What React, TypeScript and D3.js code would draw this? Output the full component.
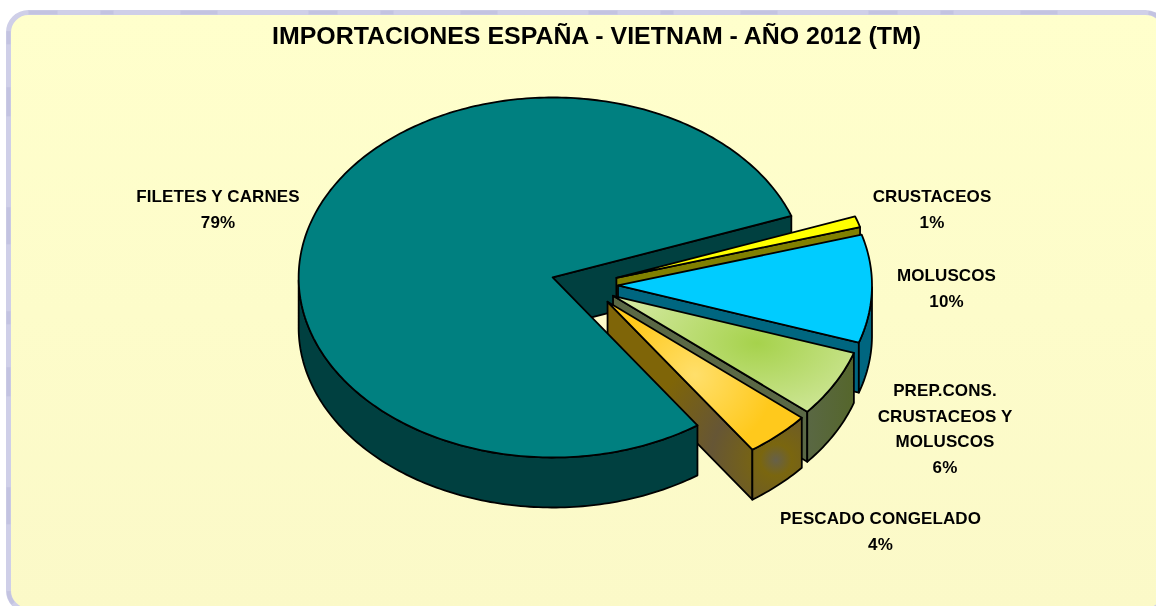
import React from "react";
import * as d3 from "d3";

const categories = ["CRUSTACEOS", "MOLUSCOS", "PREP.CONS. CRUSTACEOS Y MOLUSCOS", "PESCADO CONGELADO", "FILETES Y CARNES"];
const values = [1.0, 9.7, 6.0, 4.2, 79.1];
const percentLabels = ["1%", "10%", "6%", "4%", "79%"];
const labelLines = [["CRUSTACEOS", "1%"], ["MOLUSCOS", "10%"], ["PREP.CONS.", "CRUSTACEOS Y", "MOLUSCOS", "6%"], ["PESCADO CONGELADO", "4%"], ["FILETES Y CARNES", "79%"]];
const labelCenters: [number, number][] = [[932, 202], [946.5, 281], [945, 396], [880.5, 524], [218, 202]];
const topColors = ["#FFFF00", "#00CCFF", "url(#gPrep)", "url(#gPesc)", "#008080"];
const wallColors = ["#808000", "#006680", "url(#gPrepWall)", "url(#gPescWall)", "#004040"];
const explode = [32, 32, 31, 32, 35];
const title = "IMPORTACIONES ESPAÑA - VIETNAM - AÑO 2012 (TM)";

const W = 1156, H = 606, CX = 586, CY = 285, RX = 254, RY = 180, DEPTH = 50, TILT = RY / RX;
const deg = Math.PI / 180;
const pie = d3.pie<number>().sort(null).startAngle((-20 + 90) * deg).endAngle((340 + 90) * deg);
const arcs = pie(values);
const line = d3.line<[number, number]>();

function sample(a0: number, a1: number) {
  const n = Math.max(2, Math.ceil(Math.abs(a1 - a0) / (1 * deg)));
  return d3.range(n + 1).map((i) => a0 + ((a1 - a0) * i) / n);
}
function Slice({ i, part }: { i: number; part: "back" | "front" | "all" }) {
  const a0 = arcs[i].startAngle - Math.PI / 2;
  const a1 = arcs[i].endAngle - Math.PI / 2;
  const mid = (a0 + a1) / 2;
  const ax = CX + explode[i] * Math.cos(mid);
  const ay = CY + explode[i] * Math.sin(mid) * TILT;
  const pt = (a: number, dz = 0): [number, number] => [ax + RX * Math.cos(a), ay + RY * Math.sin(a) + dz];
  const faces: React.ReactNode[] = [];
  const st = { stroke: "#000", strokeWidth: 1.8, strokeLinejoin: "round" as const };
  const face = (a: number, n: number, k: string) =>
    Math.sin(n) > 0 ? (
      <path key={k} d={line([[ax, ay], pt(a), pt(a, DEPTH), [ax, ay + DEPTH]])! + "Z"} fill={wallColors[i]} {...st} />
    ) : null;
  if (part !== "front") faces.push(face(a1, a1 + Math.PI / 2, "end"), face(a0, a0 - Math.PI / 2, "start"));
  if (part !== "back") {
    const angs = sample(a0, a1).filter((a) => Math.sin(a) >= 0);
    if (angs.length > 1) {
      const pts = [...angs.map((a) => pt(a)), ...angs.slice().reverse().map((a) => pt(a, DEPTH))];
      faces.push(<path key="wall" d={line(pts)! + "Z"} fill={wallColors[i]} {...st} />);
    }
    faces.push(
      <path key="top" d={line([[ax, ay], ...sample(a0, a1).map((a) => pt(a))])! + "Z"} fill={topColors[i]} {...st} />
    );
  }
  return <g>{faces}</g>;
}

export default function App() {
  const order = [0, 1, 2, 3];
  const frame = { x: 8.5, y: 12.5, width: 1157, height: 598, rx: 20, fill: "none" };
  return (
    <svg width={W} height={H} style={{ position: "fixed", left: 0, top: 0, fontFamily: "'Liberation Sans', Arial, sans-serif" }}>
      <defs>
        <linearGradient id="bg" x1="0" y1="0" x2="0" y2="1">
          <stop offset="0" stopColor="#FFFFCC" />
          <stop offset="1" stopColor="#FBF9C8" />
        </linearGradient>
        <radialGradient id="gPrep" gradientUnits="userSpaceOnUse" cx="757" cy="343" r="140" gradientTransform="translate(757 343) scale(1 .6) translate(-757 -343)">
          <stop offset="0" stopColor="#A6D24C" />
          <stop offset="1" stopColor="#D2E89E" />
        </radialGradient>
        <radialGradient id="gPesc" gradientUnits="userSpaceOnUse" cx="695" cy="375" r="80">
          <stop offset="0" stopColor="#FFDF6B" />
          <stop offset="1" stopColor="#FFC91C" />
        </radialGradient>
        <linearGradient id="gPrepWall" gradientUnits="userSpaceOnUse" x1="805" y1="0" x2="855" y2="0">
          <stop offset="0" stopColor="#5A6845" />
          <stop offset="1" stopColor="#55662B" />
        </linearGradient>
        <radialGradient id="gPescWall" gradientUnits="userSpaceOnUse" cx="776" cy="460" r="130">
          <stop offset="0" stopColor="#66604A" />
          <stop offset="0.12" stopColor="#7A660F" />
          <stop offset="0.5" stopColor="#665635" />
          <stop offset="1" stopColor="#7F6508" />
        </radialGradient>
      </defs>
      <rect {...frame} fill="url(#bg)" stroke="#CFCFE8" strokeWidth={5} />
      <rect {...frame} stroke="#A9A9CF" strokeOpacity={0.3} strokeWidth={4} strokeDasharray="29 43 13 67 37 91" />
      <Slice i={4} part="back" />
      {order.map((i) => (
        <React.Fragment key={categories[i]}>
          <Slice i={i} part="all" />
        </React.Fragment>
      ))}
      <Slice i={4} part="front" />
      <text x={596.5} y={44} textAnchor="middle" fontWeight="bold" fontSize={24} fill="#000" textLength={649} lengthAdjust="spacingAndGlyphs">{title}</text>
      {labelLines.map((lines, i) => (
        <text key={percentLabels[i]} textAnchor="middle" fontWeight="bold" fontSize={17} fill="#000" letterSpacing={0.1}>
          {lines.map((l, j) => (
            <tspan key={j} x={labelCenters[i][0]} y={labelCenters[i][1] + j * 25.5}>{l}</tspan>
          ))}
        </text>
      ))}
    </svg>
  );
}
